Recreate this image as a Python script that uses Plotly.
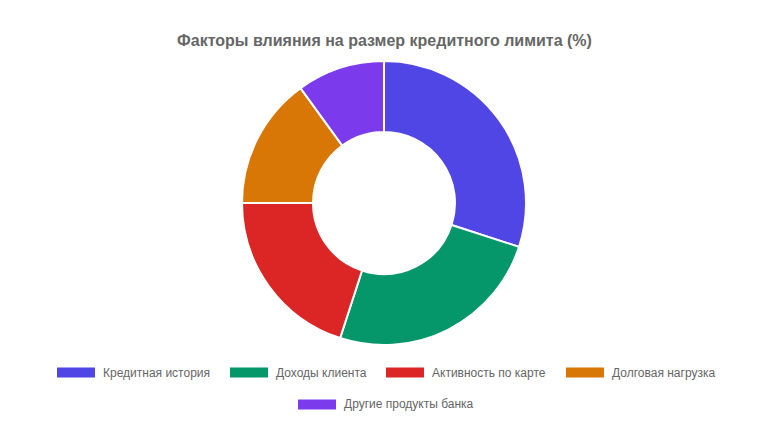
import plotly.graph_objects as go

# data
factor_labels = ["Кредитная история", "Доходы клиента", "Активность по карте",
                 "Долговая нагрузка", "Другие продукты банка"]
factor_values = [30, 25, 20, 15, 10]
factor_colors = ["#4F46E5", "#059669", "#DC2626", "#D97706", "#7C3AED"]
chart_title = "Факторы влияния на размер кредитного лимита (%)"

W, H = 769, 442
OFF = 8  # body margin of the html page
# pie box on screen: 242..526 x 61..345
PIE_L, PIE_R, PIE_T, PIE_B = 242, 526, 61, 345
M_T = PIE_T - OFF
M_B = H - (PIE_B - OFF)
font_family = "Arial, 'Liberation Sans', Helvetica, sans-serif"

def px_x(x):
    return (x - OFF) / W

def px_y(y):
    # screen pixel from top -> paper coordinate of plot area
    return (H - M_B - (y - OFF)) / (H - M_T - M_B)

fig = go.Figure()
fig.add_trace(go.Pie(
    labels=factor_labels,
    values=factor_values,
    hole=0.5,
    sort=False,
    direction="clockwise",
    rotation=0,
    domain=dict(x=[px_x(PIE_L), px_x(PIE_R)], y=[0, 1]),
    marker=dict(colors=factor_colors, line=dict(color="white", width=2)),
    textinfo="none",
    showlegend=False,
))

# legend rebuilt by hand (chart.js style wide boxes)
legend_slots = [(57, 372.5), (230, 372.5), (386, 372.5), (566, 372.5), (298, 404.5)]
box_w, box_h = 38, 10
shapes, annotations = [], []
for lab, col, (lx, ly) in zip(factor_labels, factor_colors, legend_slots):
    shapes.append(dict(type="rect", xref="paper", yref="paper",
                       x0=px_x(lx), x1=px_x(lx + box_w),
                       y0=px_y(ly + box_h / 2), y1=px_y(ly - box_h / 2),
                       fillcolor=col, line=dict(width=0)))
    annotations.append(dict(text=lab, xref="paper", yref="paper",
                            x=px_x(lx + box_w + 6), y=px_y(ly),
                            xanchor="left", yanchor="middle", showarrow=False,
                            font=dict(size=12, color="#666666", family=font_family)))

fig.update_layout(
    width=W, height=H,
    title=dict(text="<b>" + chart_title + "</b>", x=px_x(384.5), xanchor="center",
               y=1 - (40 - OFF) / H, yanchor="middle",
               font=dict(size=16, color="#666666", family=font_family)),
    margin=dict(l=0, r=0, t=M_T, b=M_B),
    paper_bgcolor="white",
    plot_bgcolor="white",
    shapes=shapes,
    annotations=annotations,
    font=dict(family=font_family),
)

fig.write_html("out.html")
